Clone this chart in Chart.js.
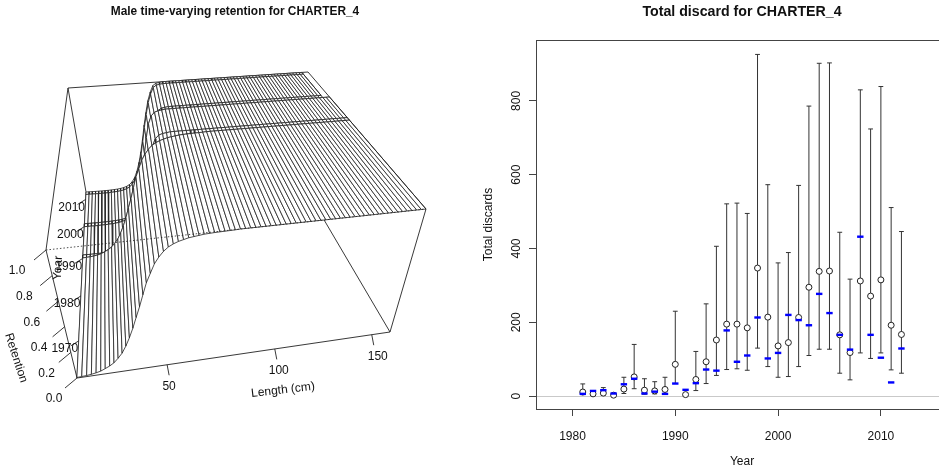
<!DOCTYPE html>
<html><head><meta charset="utf-8">
<style>html,body{margin:0;padding:0;background:#fff;width:939px;height:471px;overflow:hidden}
canvas{position:absolute;top:0;display:block}</style>
<script src="https://cdn.jsdelivr.net/npm/chart.js@4"></script></head>
<body><canvas id="left" width="470" height="471" style="left:0"></canvas>
<canvas id="right" width="478" height="471" style="left:470px"></canvas>
<script>
// ---------- discard panel data ----------
const years=[1981,1982,1983,1984,1985,1986,1987,1988,1989,1990,1991,1992,1993,1994,1995,1996,1997,1998,1999,2000,2001,2002,2003,2004,2005,2006,2007,2008,2009,2010,2011,2012];
const observedDiscard=[11,6,8,2.5,19,52,16,14,18,86,4,45,93,152,195,195,185,347,214,136,145,213,295,338,339,166,118,312,271,315,192,167];
const upperCI=[33,11,23,7,51,140,47,39,51,230,8,121,250,406,521,523,495,926,573,361,389,571,786,902,903,444,317,830,724,839,511,446];
const lowerCI=[4,3,2,1,7,20,5,6,5,34,2,15,34,56,72,74,70,130,80,51,53,80,110,127,127,62,44,117,102,117,71,62];
const expectedDiscard=[6,14,16,7,32,47,7,12,6,34,17,35,72,69,178,93,110,213,102,117,220,206,192,277,225,166,126,432,166,104,37,129];
const discardTicksX=[1980,1990,2000,2010];
const discardTicksY=[0,200,400,600,800];
// ---------- retention surface data ----------
const lengths=[12,14,16,18,20,22,24,26,28,30,32,34,36,38,40,42,44,46,48,50,52,54,56,58,60,62,64,66,68,70,72,74,76,78,80,82,84,86,88,90,92,94,96,98,100,102,104,106,108,110,112,114,116,118,120,122,124,126,128,130,132,134,136,138,140,142,144,146,148,150,152,154,156,158,160];
const surfaceYears=[1963,1990,1991,2000,2001,2012,2013];
const retentionEarly=[.004,.006,.008,.012,.018,.026,.04,.055,.075,.105,.14,.19,.25,.32,.40,.48,.57,.66,.73,.80,.85,.89,.92,.94,.955,.965,.975,.98,.985,.99,.992,.994,.995,.996,.997,.998,1,1,1,1,1,1,1,1,1,1,1,1,1,1,1,1,1,1,1,1,1,1,1,1,1,1,1,1,1,1,1,1,1,1,1,1,1,1,1];
const retentionMiddle=[0,0,0,0,.001,.002,.003,.005,.007,.01,.014,.02,.03,.045,.07,.12,.18,.26,.36,.48,.62,.76,.88,.95,.98,.99,.995,1,1,1,1,1,1,1,1,1,1,1,1,1,1,1,1,1,1,1,1,1,1,1,1,1,1,1,1,1,1,1,1,1,1,1,1,1,1,1,1,1,1,1,1,1,1,1,1];
const retentionLate=[0,0,0,0,.001,.001,.002,.003,.005,.007,.01,.014,.02,.03,.045,.07,.11,.17,.25,.35,.47,.6,.72,.83,.91,.97,.99,.995,1,1,1,1,1,1,1,1,1,1,1,1,1,1,1,1,1,1,1,1,1,1,1,1,1,1,1,1,1,1,1,1,1,1,1,1,1,1,1,1,1,1,1,1,1];
const retentionByRow=[retentionEarly,retentionEarly,retentionMiddle,retentionMiddle,retentionLate,retentionLate,retentionLate];
const retentionTicks=[0,0.2,0.4,0.6,0.8,1];
const yearTicks=[1970,1980,1990,2000,2010];
const lengthTicks=[50,100,150];

// ---------- view of the 3D box ----------
const floorQuad=[[77,378],[390,332],[300,179],[86,192]];
const topQuad=[[46,250],[426,209],[308,72],[68,88]];
function quadMap(q){
  const [[x0,y0],[x1,y1],[x2,y2],[x3,y3]]=q;
  const dx1=x1-x2,dx2=x3-x2,sx=x0-x1+x2-x3,dy1=y1-y2,dy2=y3-y2,sy=y0-y1+y2-y3;
  const den=dx1*dy2-dx2*dy1,g=(sx*dy2-dx2*sy)/den,h=(dx1*sy-sx*dy1)/den;
  const a=x1-x0+g*x1,b=x3-x0+h*x3,d=y1-y0+g*y1,e=y3-y0+h*y3;
  return (u,v)=>{const w=g*u+h*v+1;return [(a*u+b*v+x0)/w,(d*u+e*v+y0)/w];};
}
const floorMap=quadMap(floorQuad),topMap=quadMap(topQuad);
const L0=lengths[0],L1=lengths[lengths.length-1],Y0=surfaceYears[0],Y1=surfaceYears[surfaceYears.length-1];
function project(len,yr,ret){
  const u=(len-L0)/(L1-L0),v=(yr-Y0)/(Y1-Y0);
  const p=floorMap(u,v),q=topMap(u,v);
  return {x:p[0]+(q[0]-p[0])*ret,y:p[1]+(q[1]-p[1])*ret};
}
const ink='#222222';
function lineSet(points,extra){return Object.assign({data:points,showLine:true,pointRadius:0,borderColor:ink,borderWidth:0.8,backgroundColor:'transparent',tension:0,clip:false},extra||{});}

// painter's order: everything is listed back to front, then reversed for Chart.js
const back=[];
const edge={borderWidth:0.9};
back.push(lineSet([project(L0,Y1,1),project(L1,Y1,1)],edge));
back.push(lineSet([project(L0,Y0,1),project(L0,Y1,1)],edge));
back.push(lineSet([project(L0,Y1,1),project(L0,Y1,0)],edge));
back.push(lineSet([project(L1,Y1,0),project(L1,Y0,0)],edge));
back.push(lineSet([project(L0,Y0,0),project(L0,Y1,0)],edge));
back.push(lineSet([project(L0,Y0,0),project(L1,Y0,0)],edge));
for(let j=surfaceYears.length-2;j>=0;j--){
  for(let i=0;i<lengths.length-1;i++){
    const a=retentionByRow[j],b=retentionByRow[j+1];
    back.push(lineSet([
      project(lengths[i],surfaceYears[j],a[i]),
      project(lengths[i+1],surfaceYears[j],a[i+1]),
      project(lengths[i+1],surfaceYears[j+1],b[i+1]),
      project(lengths[i],surfaceYears[j+1],b[i]),
      project(lengths[i],surfaceYears[j],a[i])
    ],{facet:true}));
  }
}
back.push(lineSet([project(L1,Y1,1),project(L1,Y0,1)],edge));
back.push(lineSet([project(L1,Y0,1),project(L1,Y0,0)],edge));
back.push(lineSet([project(L0,Y0,0),project(L0,Y0,1)],edge));
back.push(lineSet([project(L0,Y0,1),project(L1,Y0,1)],{borderDash:[1.5,2],borderWidth:0.8}));
for(const r of retentionTicks){const p=project(L0,Y0,r);back.push(lineSet([p,{x:p.x-12,y:p.y+10}],edge));}
for(const y of yearTicks){const p=project(L0,y,0);back.push(lineSet([p,{x:p.x-8,y:p.y+5}],edge));}
for(const l of lengthTicks){const p=project(l,Y0,0);back.push(lineSet([p,{x:p.x+2,y:p.y+10.5}],edge));}

const TITLE_H=24;
const textColor='#111';
const facetFill={id:'facetFill',beforeDatasetDraw(chart,args){
  const ds=chart.data.datasets[args.index];
  if(!ds.facet)return;
  const c=chart.ctx,pts=args.meta.data;
  c.save();c.beginPath();
  pts.forEach((p,i)=>i?c.lineTo(p.x,p.y):c.moveTo(p.x,p.y));
  c.closePath();c.fillStyle='#fff';c.fill();c.restore();
}};
const boxLabels={id:'boxLabels',afterDatasetsDraw(chart){
  const c=chart.ctx,sx=chart.scales.x,sy=chart.scales.y;
  const put=(t,x,y,rot)=>{c.save();c.translate(sx.getPixelForValue(x),sy.getPixelForValue(y));c.rotate((rot||0)*Math.PI/180);c.fillText(t,0,0);c.restore();};
  c.save();c.font='12px "Liberation Sans",Arial,sans-serif';c.fillStyle=textColor;c.textAlign='center';c.textBaseline='middle';
  for(const r of retentionTicks){const p=project(L0,Y0,r);put(r.toFixed(1),p.x-23-6*r,p.y+21);}
  for(const y of yearTicks){const p=project(L0,y,0);put(String(y),p.x-14,p.y+8);}
  for(const l of lengthTicks){const p=project(l,Y0,0);put(String(l),p.x+2+(l-50)/25,p.y+22);}
  put('Length (cm)',283,390,-6.5);
  put('Retention',16,358,72);
  put('Year',58,268,-87);
  c.restore();
}};
new Chart(document.getElementById('left'),{
  type:'scatter',
  data:{datasets:back.reverse()},
  plugins:[facetFill,boxLabels],
  options:{responsive:false,animation:false,events:[],
    layout:{padding:0,autoPadding:false},
    plugins:{legend:{display:false},tooltip:{enabled:false},
      title:{display:true,text:'Male time-varying retention for CHARTER_4',color:textColor,
        font:{family:'"Liberation Sans",Arial,sans-serif',size:11.9,weight:'bold'},padding:{top:5,bottom:TITLE_H-5-14.28}}},
    scales:{x:{type:'linear',display:false,min:0,max:470},y:{type:'linear',display:false,min:TITLE_H,max:471,reverse:true}}
  }
});

// ---------- right panel ----------
const stems=[];years.forEach((y,i)=>{stems.push({x:y,y:lowerCI[i]},{x:y,y:upperCI[i]},{x:y,y:null});});
const caps=[];years.forEach((y,i)=>{caps.push({x:y,y:lowerCI[i]},{x:y,y:upperCI[i]});});
const frame={id:'frame',afterDraw(chart){const a=chart.chartArea,c=chart.ctx;c.save();c.strokeStyle='#444';c.lineWidth=1;
  c.strokeRect(Math.round(a.left)+.5,Math.round(a.top)+.5,Math.round(a.right-a.left),Math.round(a.bottom-a.top));c.restore();}};
const font={family:'"Liberation Sans",Arial,sans-serif',size:12};
new Chart(document.getElementById('right'),{
  type:'scatter',
  data:{datasets:[
    {label:'Expected',data:years.map((y,i)=>({x:y,y:expectedDiscard[i]})),pointStyle:'line',pointRadius:3.2,pointBorderColor:'#0000ff',pointBorderWidth:2.4,clip:false},
    {label:'Observed',data:years.map((y,i)=>({x:y,y:observedDiscard[i]})),pointStyle:'circle',pointRadius:3,pointBackgroundColor:'#fff',pointBorderColor:'#222',pointBorderWidth:1,clip:false},
    {label:'Caps',data:caps,pointStyle:'line',pointRadius:2.4,pointBorderColor:'#333',pointBorderWidth:1},
    {label:'CI',data:stems,showLine:true,pointRadius:0,borderColor:'#333',borderWidth:1,spanGaps:false}
  ]},
  plugins:[frame],
  options:{responsive:false,animation:false,events:[],
    layout:{padding:0,autoPadding:false},
    plugins:{legend:{display:false},tooltip:{enabled:false},
      title:{display:true,fullSize:false,text:'Total discard for CHARTER_4',color:textColor,
        font:{family:font.family,size:14.2,weight:'bold'},padding:{top:4,bottom:19}}},
    scales:{
      x:{type:'linear',min:1976.45,max:2016.53,afterFit(s){s.height=62;},
        border:{display:false},
        grid:{drawOnChartArea:false,tickColor:'#444',tickLength:7},
        afterBuildTicks(s){s.ticks=discardTicksX.map(v=>({value:v}));},
        ticks:{color:textColor,font,padding:13,maxRotation:0,autoSkip:false,includeBounds:false,callback:v=>String(v)},
        title:{display:true,text:'Year',color:textColor,font,padding:{top:0,bottom:2}}},
      y:{type:'linear',min:-35,max:965,afterFit(s){s.width=66;},
        border:{display:false},
        grid:{color:c=>c.tick&&c.tick.value===0?'#c9c9c9':'transparent',tickColor:'#444',tickLength:7},
        afterBuildTicks(s){s.ticks=discardTicksY.map(v=>({value:v}));},
        ticks:{color:textColor,font,minRotation:90,maxRotation:90,crossAlign:'center',padding:2,autoSkip:false,includeBounds:false,callback:v=>String(v)},
        title:{display:true,text:'Total discards',color:textColor,font,padding:{top:11,bottom:0}}}
    }
  }
});
</script></body></html>
